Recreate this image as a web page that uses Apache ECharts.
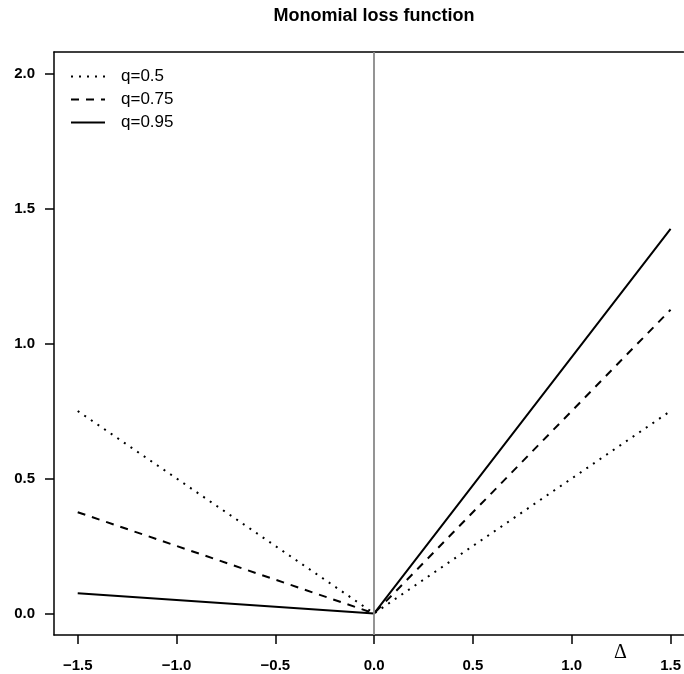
<!DOCTYPE html>
<html>
<head>
<meta charset="utf-8">
<script src="https://cdn.jsdelivr.net/npm/echarts@6/dist/echarts.min.js"></script>
<style>html,body{margin:0;padding:0;background:#fff}#c{width:684px;height:674px}</style>
</head>
<body>
<div id="c"></div>
<script>
const deltas = [-1.5, 0, 1.5];
const q05 = [0.75, 0, 0.75];
const q075 = [0.375, 0, 1.125];
const q095 = [0.075, 0, 1.425];
const xTicks = [-1.5, -1.0, -0.5, 0.0, 0.5, 1.0, 1.5];
const yTicks = [0.0, 0.5, 1.0, 1.5, 2.0];
const seriesNames = ['q=0.5', 'q=0.75', 'q=0.95'];

const FONT = '"Liberation Sans", Arial, Helvetica, sans-serif';
const chart = echarts.init(document.getElementById('c'), null, {renderer: 'canvas'});
const pairs = arr => deltas.map((d, i) => [d, arr[i]]);
const fmt = v => v.toFixed(1).replace('-', '\u2212');
const AX = {color: '#000', width: 1.5};

chart.setOption({
  animation: false,
  backgroundColor: '#fff',
  title: {
    text: 'Monomial loss function',
    left: 369, textAlign: 'center', top: 2,
    textStyle: {fontFamily: FONT, fontSize: 18, fontWeight: 'bold', color: '#000'}
  },
  legend: {
    orient: 'vertical', left: 65, top: 63,
    itemWidth: 34, itemHeight: 14, itemGap: 6,
    itemStyle: {opacity: 0},
    data: seriesNames,
    textStyle: {fontFamily: FONT, fontSize: 17, color: '#000', padding: [0, 0, 0, 11]}
  },
  grid: {left: 54, top: 52, right: 0, height: 583, show: false},
  xAxis: [{
    type: 'value', min: -1.62, max: 1.565, position: 'bottom',
    splitLine: {show: false},
    axisLine: {show: true, onZero: false, lineStyle: AX},
    axisTick: {show: true, length: 9, customValues: xTicks, lineStyle: AX},
    axisLabel: {customValues: xTicks, formatter: fmt, margin: 23, fontFamily: FONT, fontSize: 15, fontWeight: 'bold', color: '#000'}
  }, {
    type: 'value', min: -1.62, max: 1.565, position: 'top',
    splitLine: {show: false},
    axisLine: {show: true, onZero: false, lineStyle: AX},
    axisTick: {show: false}, axisLabel: {show: false}
  }],
  yAxis: {
    type: 'value', min: -0.08, max: 2.08,
    splitLine: {show: false},
    axisLine: {show: true, onZero: false, lineStyle: AX},
    axisTick: {show: true, length: 9, customValues: yTicks, lineStyle: AX},
    axisLabel: {customValues: yTicks, formatter: fmt, margin: 19, fontFamily: FONT, fontSize: 15, fontWeight: 'bold', color: '#000'}
  },
  graphic: [{
    type: 'text', left: 614, top: 643,
    style: {text: '\u0394', font: '20px "Liberation Serif", "Times New Roman", serif', fill: '#000'}
  }],
  series: [
    {name: seriesNames[0], type: 'line', symbol: 'none', data: pairs(q05),
     itemStyle: {color: '#000'},
     lineStyle: {color: '#000', width: 2, type: [2, 6]},
     markLine: {silent: true, symbol: 'none', label: {show: false},
       lineStyle: {color: '#888', width: 1.8, type: 'solid'}, data: [{xAxis: 0}]}},
    {name: seriesNames[1], type: 'line', symbol: 'none', data: pairs(q075),
     itemStyle: {color: '#000'},
     lineStyle: {color: '#000', width: 2, type: [8, 7]}},
    {name: seriesNames[2], type: 'line', symbol: 'none', data: pairs(q095),
     itemStyle: {color: '#000'},
     lineStyle: {color: '#000', width: 2, type: 'solid'}}
  ]
});
</script>
</body>
</html>
